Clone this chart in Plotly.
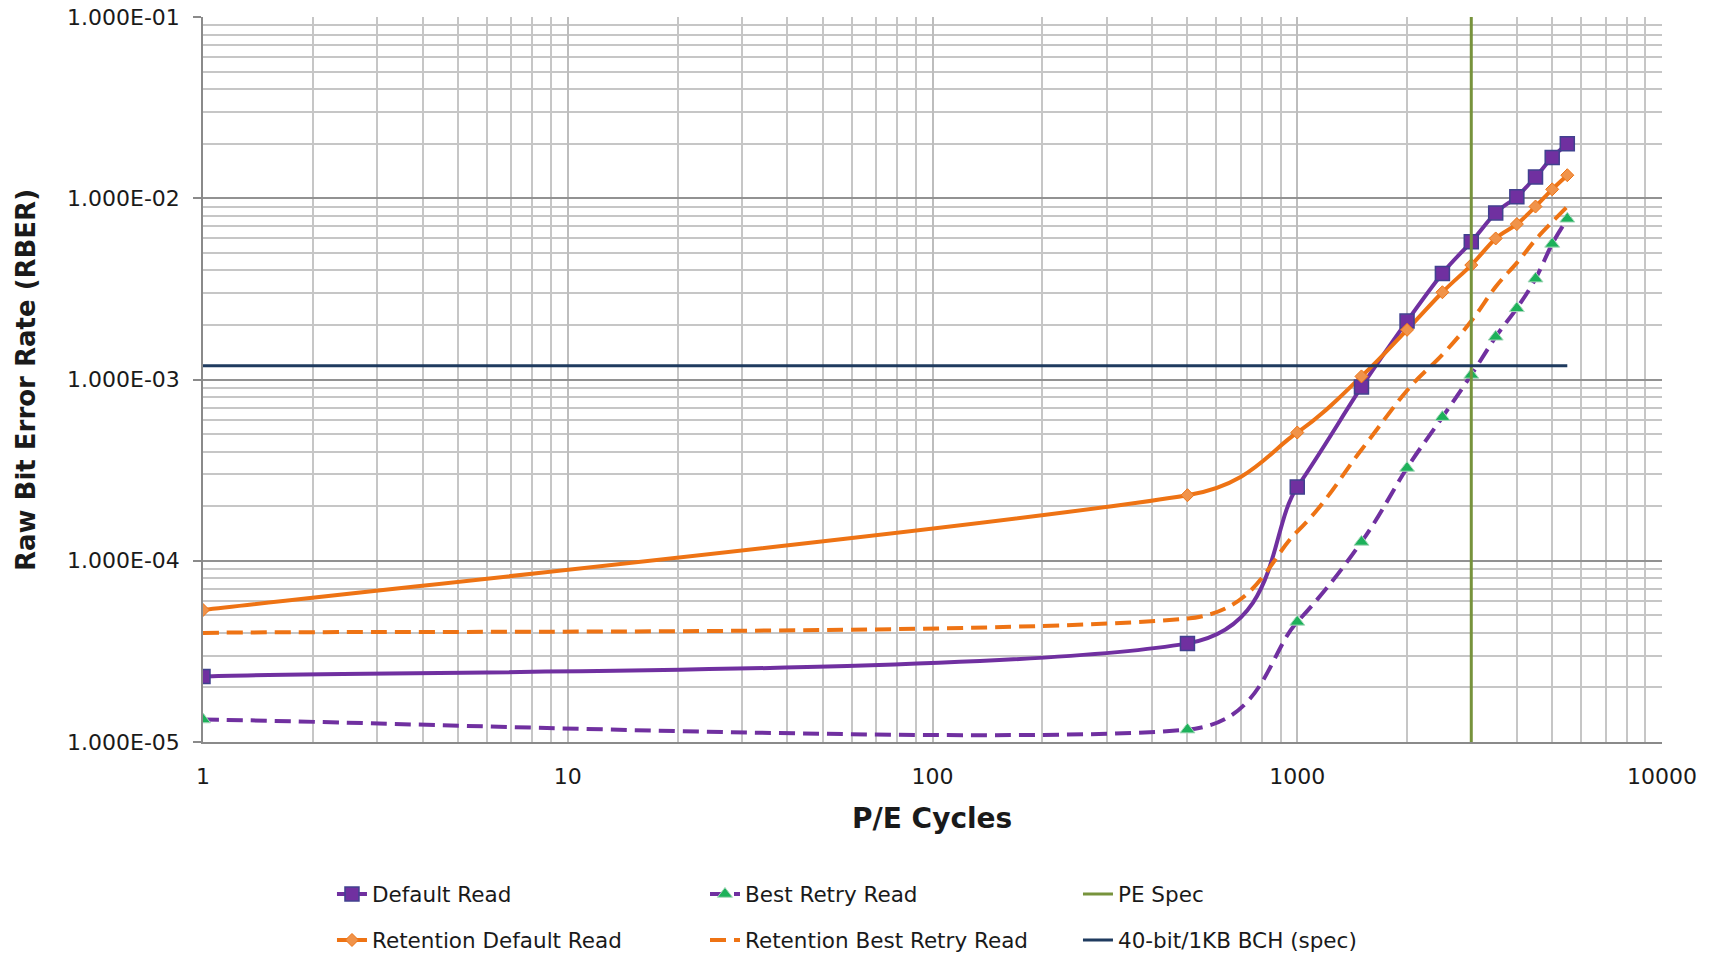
import math
import plotly.graph_objects as go

# ---------------- data ----------------
pe_cycles = [1, 500, 1000, 1500, 2000, 2500, 3000, 3500, 4000, 4500, 5000, 5500]

default_read = [2.3e-5, 3.5e-5, 2.55e-4, 9.1e-4, 2.1e-3, 3.85e-3, 5.75e-3, 8.3e-3,
                1.02e-2, 1.31e-2, 1.68e-2, 2.0e-2]
best_retry_read = [1.33e-5, 1.17e-5, 4.6e-5, 1.27e-4, 3.25e-4, 6.2e-4, 1.06e-3, 1.72e-3,
                   2.47e-3, 3.6e-3, 5.6e-3, 7.7e-3]
retention_default_read = [5.35e-5, 2.3e-4, 5.1e-4, 1.04e-3, 1.88e-3, 3.03e-3, 4.28e-3,
                          6.0e-3, 7.2e-3, 9.0e-3, 1.12e-2, 1.34e-2]
retention_best_retry_read = [4.0e-5, 4.8e-5, 1.45e-4, 4.1e-4, 8.7e-4, 1.37e-3, 2.1e-3,
                             3.25e-3, 4.4e-3, 5.9e-3, 7.4e-3, 9.0e-3]

pe_spec_x = [3000, 3000]
pe_spec_y = [1e-5, 1e-1]
bch_x = [1, 5500]
bch_y = [1.19e-3, 1.19e-3]

y_tickvals = [1e-5, 1e-4, 1e-3, 1e-2, 1e-1]
y_ticktext = ["1.000E-05", "1.000E-04", "1.000E-03", "1.000E-02", "1.000E-01"]
x_tickvals = [1, 10, 100, 1000, 10000]
x_ticktext = ["1", "10", "100", "1000", "10000"]

x_minor = [m * 10 ** d for d in range(4) for m in range(2, 10)]
y_minor = [m * 10.0 ** d for d in range(-5, -1) for m in range(2, 10)]

# ---------------- layout geometry ----------------
W, H = 1714, 953
ML, MR, MT, MB = 203, 52, 17, 211
X_DECADES, Y_DECADES = 4, 4
PX_PER_DEC_X = (W - ML - MR) / X_DECADES
PX_PER_DEC_Y = (H - MT - MB) / Y_DECADES

# ---------------- style ----------------
PURPLE = "#7030A0"
ORANGE = "#EE7314"
GREEN_TRI = "#1DB15A"
PE_GREEN = "#77933C"
NAVY = "#1F3B5F"
FONT = "DejaVu Sans"
TEXT = "#1a1a1a"
DASH = "16px,8px"


def smoothed_path(xs, ys, cap=0.5):
    """Excel-style smoothed line: cubic Bezier through the data points,
    control points from neighbouring points (1/6 rule), computed in screen space."""
    pts = [(math.log10(x) * PX_PER_DEC_X, math.log10(y) * PX_PER_DEC_Y) for x, y in zip(xs, ys)]
    n = len(pts)

    def fmt(p):
        return f"{10 ** (p[0] / PX_PER_DEC_X):.6f},{10 ** (p[1] / PX_PER_DEC_Y):.12f}"

    def limit(a, seg):
        length = math.hypot(a[0], a[1])
        if length > cap * seg and length > 0:
            k = cap * seg / length
            return (a[0] * k, a[1] * k)
        return a

    path = "M" + fmt(pts[0])
    for i in range(n - 1):
        p0 = pts[i - 1] if i > 0 else pts[i]
        p1, p2 = pts[i], pts[i + 1]
        p3 = pts[i + 2] if i + 2 < n else pts[i + 1]
        seg = math.hypot(p2[0] - p1[0], p2[1] - p1[1])
        a1 = limit(((p2[0] - p0[0]) / 6, (p2[1] - p0[1]) / 6), seg)
        a2 = limit(((p3[0] - p1[0]) / 6, (p3[1] - p1[1]) / 6), seg)
        c1 = (p1[0] + a1[0], p1[1] + a1[1])
        c2 = (p2[0] - a2[0], p2[1] - a2[1])
        path += " C" + fmt(c1) + " " + fmt(c2) + " " + fmt(p2)
    return path


series = [
    # name, values, color, dash, marker dict or None, legend
    ("Default Read", default_read, PURPLE, "solid",
     dict(symbol="square", size=14, color=PURPLE, line=dict(color="#41418F", width=1.5)), "legend"),
    ("Best Retry Read", best_retry_read, PURPLE, DASH,
     dict(symbol="triangle-up", size=13, color=GREEN_TRI, line=dict(color="#A8D8BC", width=1)), "legend"),
    ("Retention Default Read", retention_default_read, ORANGE, "solid",
     dict(symbol="diamond", size=10, color="#F0934A", line=dict(color=ORANGE, width=1)), "legend2"),
    ("Retention Best Retry Read", retention_best_retry_read, ORANGE, DASH, None, "legend2"),
]

fig = go.Figure()
shapes = []

for name, vals, color, dash, marker, leg in series:
    # smoothed connecting line (drawn between gridlines and markers)
    shapes.append(dict(type="path", xref="x", yref="y", layer="between",
                       path=smoothed_path(pe_cycles, vals),
                       line=dict(color=color, width=4, dash=dash)))
    # legend entry (line + marker sample)
    fig.add_trace(go.Scatter(
        x=[None], y=[None], name=name,
        mode="lines+markers" if marker else "lines",
        line=dict(color=color, width=4, dash=dash),
        marker=marker, legend=leg, hoverinfo="skip"))
    # data markers
    if marker:
        fig.add_trace(go.Scatter(
            x=pe_cycles, y=vals, name=name, mode="markers",
            marker=marker, showlegend=False))

fig.add_trace(go.Scatter(
    x=pe_spec_x, y=pe_spec_y, name="PE Spec", mode="lines",
    line=dict(color=PE_GREEN, width=3), legend="legend"))
fig.add_trace(go.Scatter(
    x=bch_x, y=bch_y, name="40-bit/1KB BCH (spec)", mode="lines",
    line=dict(color=NAVY, width=3), legend="legend2"))

legend_common = dict(
    orientation="h", xanchor="left", yanchor="middle",
    entrywidth=328, entrywidthmode="pixels",
    font=dict(family=FONT, size=21.5, color=TEXT),
    bgcolor="rgba(0,0,0,0)", traceorder="normal",
)

fig.update_layout(
    width=W, height=H,
    margin=dict(l=ML, r=MR, t=MT, b=MB, autoexpand=False),
    paper_bgcolor="white", plot_bgcolor="white",
    font=dict(family=FONT, size=22, color=TEXT),
    shapes=shapes,
    legend=dict(x=0.0884, y=-0.2097, **legend_common),
    legend2=dict(x=0.0884, y=-0.2731, **legend_common),
    xaxis=dict(
        type="log", range=[0, X_DECADES], automargin=False,
        tickvals=x_tickvals, ticktext=x_ticktext,
        showgrid=True, gridcolor="#BDBDBD", gridwidth=1.5,
        minor=dict(tickvals=x_minor, showgrid=True, gridcolor="#C6C6C6", gridwidth=1.5, ticks=""),
        showline=True, linecolor="#8A8A8A", linewidth=1.5,
        ticks="", ticklabelstandoff=14,
        tickfont=dict(family=FONT, size=22, color=TEXT),
        zeroline=False,
    ),
    yaxis=dict(
        type="log", range=[-5, -5 + Y_DECADES], automargin=False,
        tickvals=y_tickvals, ticktext=y_ticktext,
        showgrid=True, gridcolor="#929292", gridwidth=1.5,
        minor=dict(tickvals=y_minor, showgrid=True, gridcolor="#C6C6C6", gridwidth=1.5, ticks=""),
        showline=True, linecolor="#8A8A8A", linewidth=1.5,
        ticks="outside", ticklen=8, tickcolor="#8A8A8A", tickwidth=1.5,
        ticklabelstandoff=9,
        tickfont=dict(family=FONT, size=22, color=TEXT),
        zeroline=False,
    ),
    annotations=[
        dict(text="<b>P/E Cycles</b>", xref="paper", yref="paper", x=0.4997, y=-0.1062,
             xanchor="center", yanchor="middle", showarrow=False,
             font=dict(family=FONT, size=28, color=TEXT)),
        dict(text="<b>Raw Bit Error Rate (RBER)</b>", xref="paper", yref="paper", x=-0.1213, y=0.4993,
             xanchor="center", yanchor="middle", showarrow=False, textangle=-90,
             font=dict(family=FONT, size=26, color=TEXT)),
    ],
)

# remove the browser's default 8px page margin so the figure fills the window exactly
fig.write_html("out.html",
               config={"displayModeBar": False},
               post_script="document.body.style.margin='0px';document.body.style.overflow='hidden';")
